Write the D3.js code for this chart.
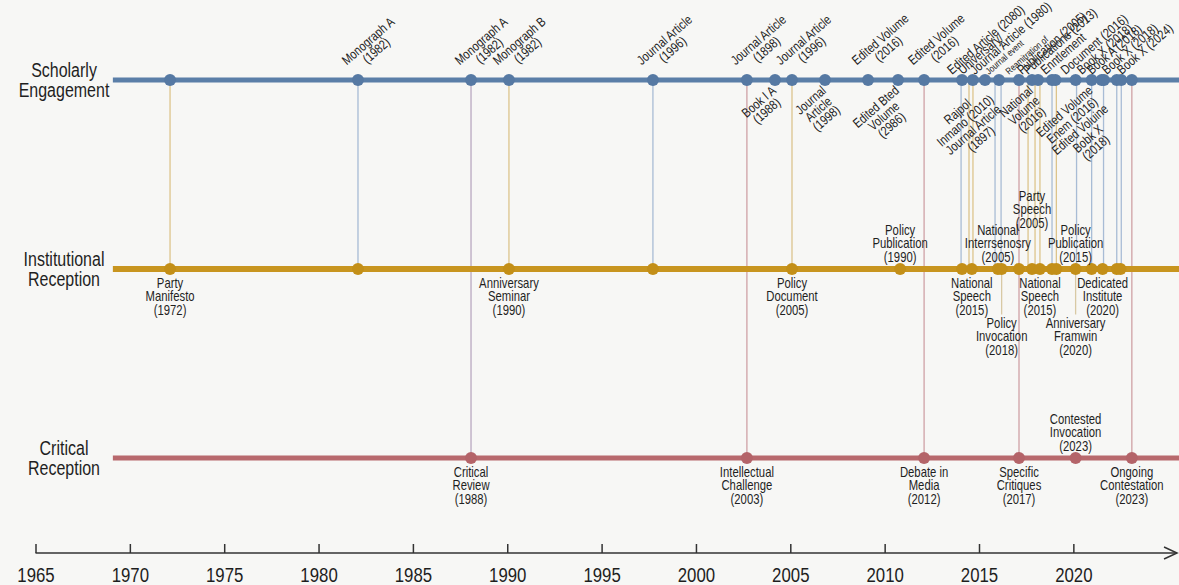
<!DOCTYPE html>
<html>
<head>
<meta charset="utf-8">
<script src="https://cdn.jsdelivr.net/npm/d3@7"></script>
<style>
html,body{margin:0;padding:0;background:#f7f7f5;}
svg{display:block;font-family:"Liberation Sans",Arial,"Helvetica",sans-serif;}
</style>
</head>
<body>
<svg id="chart" width="1179" height="585"></svg>
<script>
// ---------------- DATA ----------------
const axisTicks = [1965,1970,1975,1980,1985,1990,1995,2000,2005,2010,2015,2020];
const laneKeys = ["Scholarly","Institutional","Critical"];
const laneLabels = [["Scholarly","Engagement"],["Institutional","Reception"],["Critical","Reception"]];
const laneStart = 1969.1, laneEnd = 2025.6;

const scholarlyEvents = [
  {year:1972.13},
  {year:1982.09, above:["Monograph A","(1982)"]},
  {year:1988.08, above:["Monograph A","(1982)"]},
  {year:1990.09, above:["Monograph B","(1982)"]},
  {year:1997.72, above:["Journal Article","(1996)"]},
  {year:2002.70, above:["Journal Article","(1898)"]},
  {year:2004.19, below:["Book I A","(1988)"]},
  {year:2005.09, above:["Journal Article","(1996)"]},
  {year:2006.84, below:["Journal","Article","(1998)"]},
  {year:2009.12, above:["Edited Volume","(2016)"]},
  {year:2010.71, below:["Edited Bted","Volume","(2986)"]},
  {year:2012.09, above:["Edited Volume","(2016)"]},
  {year:2014.10, above:["Edited Article (2080)"]},
  {year:2014.67, above:["Universary/"]},
  {year:2015.32, above:["Journal Article (1980)"], below:["Rajpol","Inmano (2010)","Journal Article","(1897)"]},
  {year:2016.06, above:["Journal event"]},
  {year:2017.12, above:["Reamitration of"]},
  {year:2017.81, above:["Publication (2005)"], below:["National","Volume","(2016)"]},
  {year:2018.13, above:["Publications (2013)"]},
  {year:2018.87},
  {year:2019.05, above:["Enntlement"]},
  {year:2020.12, above:["Document (2016)"]},
  {year:2020.97, above:["Book X (2018)"], below:["Edited Volume","Enem (2016)","Edited Voluine","Bobk X","(2018)"]},
  {year:2021.50, above:["Book A (2018)"]},
  {year:2021.62},
  {year:2022.30, above:["Book X (2018)"]},
  {year:2022.54},
  {year:2023.10, above:["Book X (2024)"]}
];

const institutionalEvents = [
  {year:1972.13, below:["Party","Manifesto","(1972)"]},
  {year:1982.09},
  {year:1990.09, below:["Anniversary","Seminar","(1990)"]},
  {year:1997.72},
  {year:2005.09, below:["Policy","Document","(2005)"]},
  {year:2010.82, above:["Policy","Publication","(1990)"]},
  {year:2014.10},
  {year:2014.62, below:["National","Speech","(2015)"]},
  {year:2016.00, above:["National","Interrsenosry","(2005)"]},
  {year:2016.20, below:["Policy","Invocation","(2018)"]},
  {year:2017.12},
  {year:2017.81, above:["Party","Speech","(2005)"]},
  {year:2018.23, below:["National","Speech","(2015)"]},
  {year:2018.87},
  {year:2019.10},
  {year:2020.12, above:["Policy","Publication","(2015)"], below:["Anniversary","Framwin","(2020)"]},
  {year:2020.97},
  {year:2021.55, below:["Dedicated","Institute","(2020)"]},
  {year:2022.30},
  {year:2022.50}
];

const criticalEvents = [
  {year:1988.08, below:["Critical","Review","(1988)"]},
  {year:2002.70, below:["Intellectual","Challenge","(2003)"]},
  {year:2012.09, below:["Debate in","Media","(2012)"]},
  {year:2017.12, below:["Specific","Critiques","(2017)"]},
  {year:2020.12, above:["Contested","Invocation","(2023)"]},
  {year:2023.10, below:["Ongoing","Contestation","(2023)"]}
];

const connectors = [
  {year:1972.13, from:"Scholarly", to:"Institutional", kind:"institutional"},
  {year:1982.09, from:"Scholarly", to:"Institutional", kind:"scholarly"},
  {year:1988.08, from:"Scholarly", to:"Critical", kind:"mixed"},
  {year:1990.09, from:"Scholarly", to:"Institutional", kind:"institutional"},
  {year:1997.72, from:"Scholarly", to:"Institutional", kind:"scholarly"},
  {year:2002.70, from:"Scholarly", to:"Critical", kind:"critical"},
  {year:2005.09, from:"Scholarly", to:"Institutional", kind:"institutional"},
  {year:2012.09, from:"Scholarly", to:"Critical", kind:"critical"},
  {year:2014.05, from:"Scholarly", to:"Institutional", kind:"scholarly"},
  {year:2014.47, from:"Scholarly", to:"Institutional", kind:"institutional"},
  {year:2014.68, from:"Scholarly", to:"Institutional", kind:"institutional"},
  {year:2015.85, from:"Scholarly", to:"Institutional", kind:"scholarly"},
  {year:2016.17, from:"Scholarly", to:"Institutional", kind:"scholarly"},
  {year:2017.12, from:"Scholarly", to:"Critical", kind:"critical"},
  {year:2017.60, from:"Scholarly", to:"Institutional", kind:"institutional"},
  {year:2017.97, from:"Scholarly", to:"Institutional", kind:"institutional"},
  {year:2018.23, from:"Scholarly", to:"Institutional", kind:"institutional"},
  {year:2018.87, from:"Scholarly", to:"Institutional", kind:"scholarly"},
  {year:2019.10, from:"Scholarly", to:"Institutional", kind:"institutional"},
  {year:2020.17, from:"Scholarly", to:"Institutional", kind:"scholarly"},
  {year:2020.97, from:"Scholarly", to:"Institutional", kind:"scholarly"},
  {year:2021.60, from:"Scholarly", to:"Institutional", kind:"scholarly"},
  {year:2022.30, from:"Scholarly", to:"Institutional", kind:"scholarly"},
  {year:2022.54, from:"Scholarly", to:"Institutional", kind:"scholarly"},
  {year:2023.10, from:"Scholarly", to:"Critical", kind:"critical"}
];

// ---------------- STYLE ----------------
const laneColor = {Scholarly:"#5b7fa8", Institutional:"#c8951f", Critical:"#b8696d"};
const dotColor  = {Scholarly:"#5679a3", Institutional:"#c38f18", Critical:"#b46469"};
const laneWidth = {Scholarly:5, Institutional:6, Critical:5};
const dotR = {Scholarly:6, Institutional:6, Critical:6};
const connColor = {scholarly:"#a8bcd5", institutional:"#dcc48c", critical:"#cfa1a5", mixed:"#b9a9c0"};
const smallText = new Set(["Journal event","Reamitration of"]);
const NARROW = 0.82; // horizontal condensing to mimic a narrow grotesque

// ---------------- DRAW ----------------
const W = 1179, H = 585;
const svg = d3.select("#chart");
svg.append("rect").attr("width",W).attr("height",H).attr("fill","#f7f7f5");

const x = d3.scaleLinear().domain([1965,2025]).range([35.5,1167.7]);
const y = d3.scalePoint().domain(laneKeys).range([80,458]);

function narrowText(parent, px, py, str, size, anchor){
  const g = parent.append("g").attr("transform",`translate(${px},${py}) scale(${NARROW},1)`);
  const t = g.append("text").attr("x",0).attr("y",0).attr("font-size",size)
    .attr("fill","#1f1f1f").attr("text-anchor",anchor||"middle").text(str);
  return {g, t, w: t.node().getComputedTextLength()*NARROW};
}

// connectors
svg.append("g").selectAll("line").data(connectors).join("line")
  .attr("x1",d=>x(d.year)).attr("x2",d=>x(d.year))
  .attr("y1",d=>y(d.from)).attr("y2",d=>y(d.to))
  .attr("stroke",d=>connColor[d.kind]).attr("stroke-width",1.3);

const leaderG = svg.append("g");

// lanes
svg.append("g").selectAll("line").data(laneKeys).join("line")
  .attr("x1",x(laneStart)).attr("x2",x(laneEnd))
  .attr("y1",d=>y(d)).attr("y2",d=>y(d))
  .attr("stroke",d=>laneColor[d]).attr("stroke-width",d=>laneWidth[d]);

// lane labels
const laneLabelG = svg.append("g");
laneKeys.forEach((k,i)=>{
  laneLabels[i].forEach((l,j)=>narrowText(laneLabelG, 64, y(k)-3+j*20, l, 19.5, "middle"));
});

// dots
const allEvents = {Scholarly:scholarlyEvents, Institutional:institutionalEvents, Critical:criticalEvents};
laneKeys.forEach(k=>{
  svg.append("g").selectAll("circle").data(allEvents[k]).join("circle")
    .attr("cx",d=>x(d.year)).attr("cy",y(k)).attr("r",dotR[k]).attr("fill",dotColor[k]);
});

// rotated labels for scholarly lane
const angle = -41;
function rotLabel(year, lines, side){
  const cx = x(year), ly = y("Scholarly");
  const g = svg.append("g");
  const fs = lines.some(l=>smallText.has(l)) ? 9.5 : 13.2;
  const lh = 12.5;
  const items = lines.map(l=>{
    const sub = g.append("g");
    const t = sub.append("text").attr("font-size",fs).attr("fill","#222").attr("text-anchor","middle").text(l);
    return {sub, w: t.node().getComputedTextLength()*NARROW};
  });
  const maxW = d3.max(items, it=>it.w);
  const n = lines.length;
  if(side==="above"){
    const dx = n===1 ? -10 : -3;
    g.attr("transform",`translate(${cx+dx},${ly-5}) rotate(${angle})`);
    items.forEach((it,i)=>it.sub.attr("transform",`translate(${maxW/2},${-(n-1-i)*lh}) scale(${NARROW},1)`));
  } else {
    g.attr("transform",`translate(${cx-5},${ly+4}) rotate(${angle})`);
    items.forEach((it,i)=>it.sub.attr("transform",`translate(${-maxW/2},${10.5+i*12}) scale(${NARROW},1)`));
  }
}
scholarlyEvents.forEach(e=>{
  if(e.above) rotLabel(e.year,e.above,"above");
  if(e.below) rotLabel(e.year,e.below,"below");
});

// horizontal labels with simple stacking
function horizLabels(events, laneKey){
  const ly = y(laneKey);
  const items = [];
  events.forEach(e=>["above","below"].forEach(s=>{ if(e[s]) items.push({year:e.year, lines:e[s], side:s}); }));
  items.sort((a,b)=>a.year-b.year);
  const tierEnds = {above:[], below:[]};
  const lg = svg.append("g");
  items.forEach(it=>{
    const cx = x(it.year);
    const parts = it.lines.map(l=>narrowText(lg, cx, 0, l, 13.8, "middle"));
    const w = d3.max(parts, p=>p.w);
    const left = cx - w/2, right = cx + w/2;
    const ends = tierEnds[it.side];
    let tier = 0;
    while(tier < ends.length && ends[tier] + 2 > left) tier++;
    ends[tier] = right;
    const n = it.lines.length;
    if(it.side==="above"){
      const last = ly - 7.5 - tier*34;
      parts.forEach((p,i)=>p.g.attr("transform",`translate(${cx},${last-(n-1-i)*13.5}) scale(${NARROW},1)`));
    } else {
      const first = ly + 18.5 + tier*40;
      parts.forEach((p,i)=>p.g.attr("transform",`translate(${cx},${first+i*13.5}) scale(${NARROW},1)`));
      if(tier>0){
        leaderG.append("line").attr("x1",cx).attr("x2",cx).attr("y1",ly).attr("y2",first-13)
          .attr("stroke","#d8c9a4").attr("stroke-width",1.3);
      }
    }
  });
}
horizLabels(institutionalEvents,"Institutional");
horizLabels(criticalEvents,"Critical");

// time axis
const axisY = 553;
const axis = d3.axisBottom(x).tickValues(axisTicks).tickFormat(d3.format("d"))
  .tickSizeInner(-9).tickSizeOuter(0).tickPadding(14);
const ag = svg.append("g").attr("transform",`translate(0,${axisY})`).call(axis);
ag.select(".domain").remove();
ag.selectAll(".tick line").attr("stroke","#333").attr("stroke-width",1.5);
ag.selectAll(".tick text").attr("font-size",20.5).attr("fill","#1e1e1e")
  .attr("font-family","Liberation Sans, Arial, sans-serif")
  .attr("transform",`scale(${NARROW},1)`)
  .attr("x",0);
const axEnd = x(laneEnd) - 2;
svg.append("line").attr("x1",x(1965)).attr("x2",axEnd).attr("y1",axisY).attr("y2",axisY)
  .attr("stroke","#333").attr("stroke-width",1.5);
svg.append("path").attr("d",`M${axEnd-13},${axisY-6}L${axEnd},${axisY}L${axEnd-13},${axisY+6}`)
  .attr("fill","none").attr("stroke","#333").attr("stroke-width",1.5);
</script>
</body>
</html>
